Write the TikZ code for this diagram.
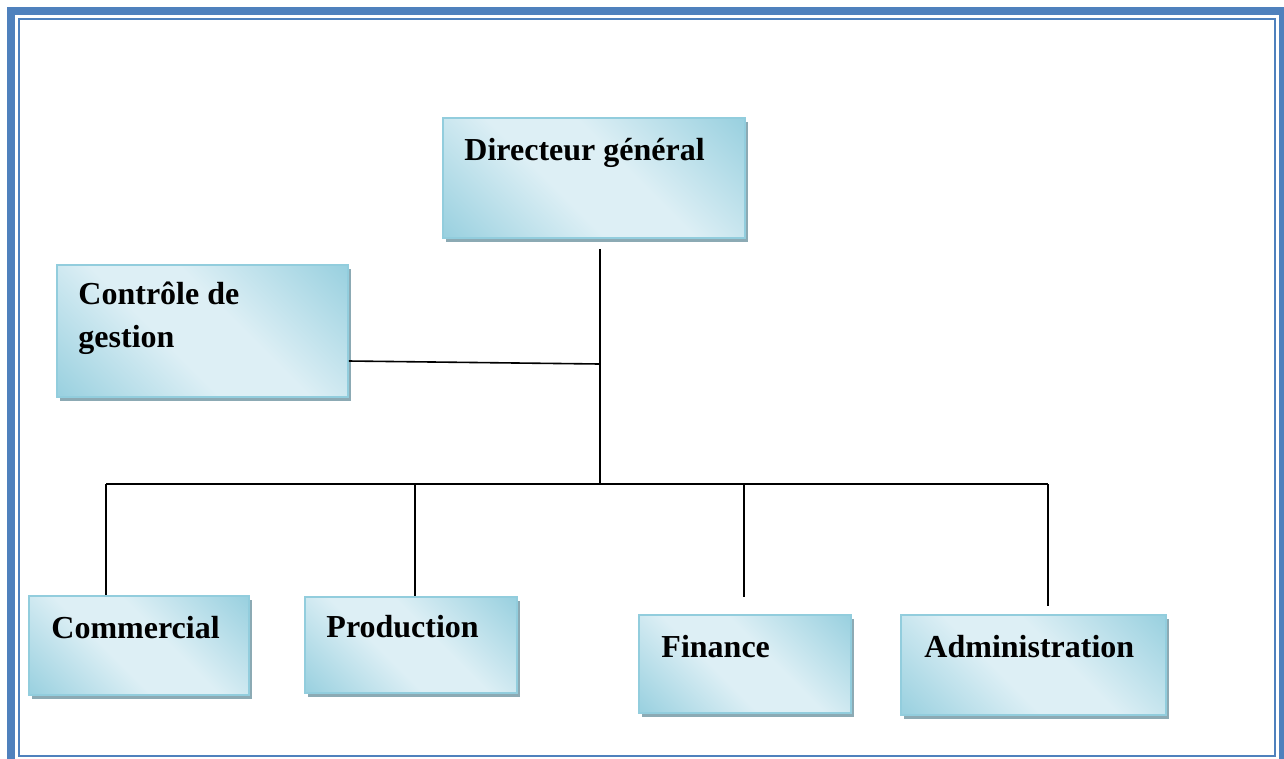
\documentclass[tikz,border=0pt]{standalone}
\usepackage{fontspec}
\setmainfont{Liberation Serif}
\usepackage{xcolor}
\definecolor{orgFrame}{RGB}{79,129,189}
\definecolor{orgDeep}{RGB}{146,205,221}
\definecolor{orgPale}{RGB}{221,239,245}
\definecolor{orgShadow}{RGB}{140,170,180}
\usepackage{tikz}
\usetikzlibrary{
    shadows,
    calc
}
\pgfdeclareverticalshading{orgGlow}{100bp}{
    color(0bp)=(orgDeep); color(12bp)=(orgDeep); color(42bp)=(orgPale);
    color(57bp)=(orgPale); color(88bp)=(orgDeep); color(100bp)=(orgDeep)}

\begin{document}
\begin{tikzpicture}[
    x=0.75pt, y=-0.75pt,
    orgBox/.style={
        rectangle,
        draw=orgDeep, line width=1.2pt,
        shading=orgGlow, shading angle=-45, inner sep=0pt,
        drop shadow={fill=orgShadow, opacity=1, shadow xshift=2.5pt, shadow yshift=-3pt}
    },
    orgText/.style={
        anchor=base west, align=left, inner sep=0pt, text=black,
        font=\fontsize{24}{32.25}\selectfont\bfseries
    },
    orgLine/.style={
        line width=1.2pt, draw=black
    }
]
    \useasboundingbox (0,0) rectangle (1284,758);

    % Page frame
    \draw[orgFrame, line width=6pt] (11,11) rectangle (1283,764);
    \draw[orgFrame, line width=1.5pt] (19,19) rectangle (1274.5,755.5);

    % Boxes
    \node[orgBox, minimum width=226.5pt, minimum height=90pt] (dir) at (594,178) {};
    \node[orgBox, minimum width=218.25pt, minimum height=99pt] (ctrl) at (202.5,331) {};
    \node[orgBox, minimum width=165pt, minimum height=74.25pt] (com) at (139,645.5) {};
    \node[orgBox, minimum width=159pt, minimum height=72pt] (prod) at (411,645) {};
    \node[orgBox, minimum width=159pt, minimum height=73.5pt] (fin) at (745,664) {};
    \node[orgBox, minimum width=198.75pt, minimum height=75pt] (adm) at (1033.5,665) {};

    % Labels (base of the last line)
    \node[orgText] (dirLabel) at ([shift={(22,43)}]dir.north west) {Directeur général};
    \node[orgText] (ctrlLabel) at ([shift={(22,83)}]ctrl.north west) {Contrôle de\\gestion};
    \node[orgText] (comLabel) at ([shift={(23,43)}]com.north west) {Commercial};
    \node[orgText] (prodLabel) at ([shift={(22,41)}]prod.north west) {Production};
    \node[orgText] (finLabel) at ([shift={(23,43)}]fin.north west) {Finance};
    \node[orgText] (admLabel) at ([shift={(24,43)}]adm.north west) {Administration};

    % Links
    \coordinate (hub) at (600,364);
    \coordinate (bus) at (600,484);
    \coordinate (jCom) at (106,484);
    \coordinate (jProd) at (415,484);
    \coordinate (jFin) at (744,484);
    \coordinate (jAdm) at (1048,484);
    \coordinate (endFin) at (744,597);
    \coordinate (endAdm) at (1048,606);

    \draw[orgLine] ($(dir.south -| bus)+(0,10)$) -- (bus);
    \draw[orgLine] ($(ctrl.east)+(0,30)$) -- (hub);
    \draw[orgLine] (jCom) -- (jAdm);
    \draw[orgLine] (jCom) -- (jCom |- com.north);
    \draw[orgLine] (jProd) -- (jProd |- prod.north);
    \draw[orgLine] (jFin) -- (endFin);
    \draw[orgLine] (jAdm) -- (endAdm);

\end{tikzpicture}
\end{document}
